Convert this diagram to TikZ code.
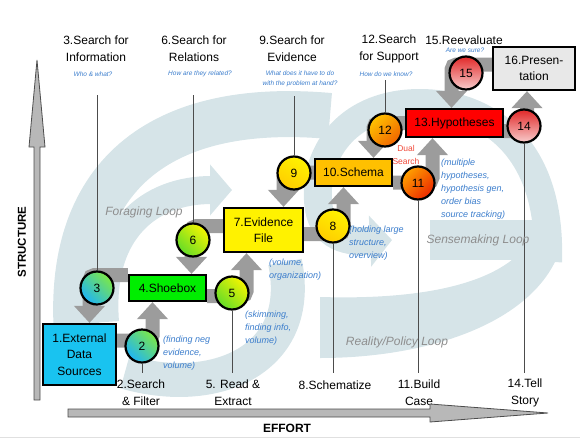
\documentclass[tikz,border=0pt]{standalone}
\usepackage{fontspec}
\setmainfont{Liberation Sans}
\usepackage{tikz}
\usetikzlibrary{arrows.meta}
\pgfdeclarelayer{swirls}
\pgfdeclarelayer{flows}
\pgfsetlayers{swirls,flows,main}
\definecolor{swirl}{HTML}{D6E4E8}
\definecolor{flowgray}{HTML}{9C9C9C}
\definecolor{axisgray}{HTML}{B8B8B8}
\definecolor{notes}{HTML}{3B7DCC}
\definecolor{loopgray}{HTML}{8E8E8E}
\definecolor{dualred}{HTML}{F04A3A}
\definecolor{extblue}{HTML}{19C3F0}
\definecolor{shoegreen}{HTML}{00EE00}
\definecolor{schemagold}{HTML}{FFC000}
\definecolor{presgray}{HTML}{E8E8E8}
\definecolor{tealtop}{RGB}{125,232,70}
\definecolor{tealbot}{RGB}{30,180,245}
\definecolor{limetop}{RGB}{245,245,0}
\definecolor{limebot}{RGB}{100,220,40}
\definecolor{suntop}{RGB}{255,242,0}
\definecolor{sunbot}{RGB}{255,205,0}
\definecolor{firetop}{RGB}{255,160,0}
\definecolor{firebot}{RGB}{235,40,0}
\definecolor{ambertop}{RGB}{255,195,0}
\definecolor{amberbot}{RGB}{240,100,0}
\definecolor{rosetop}{RGB}{225,40,40}
\definecolor{rosebot}{RGB}{248,205,205}

\begin{document}
\begin{tikzpicture}[x=1pt, y=-1pt,
    box/.style={draw, line width=2.2pt, inner sep=1pt, align=center, font=\fontsize{12}{16.5}\selectfont},
    num/.style={circle, draw, line width=2.2pt, minimum size=33pt, inner sep=0pt, font=\fontsize{12}{14}\selectfont},
    flow/.style={draw=flowgray, line width=14pt, rounded corners=5pt, -{Triangle[width=30pt,length=17pt]}},
    leader/.style={draw=black!70, line width=0.7pt},
    task/.style={align=center, inner sep=0pt, font=\fontsize{12}{17}\selectfont},
    ask/.style={text=notes, align=center, inner sep=0pt, font=\fontsize{6.5}{10}\selectfont\itshape},
    remark/.style={text=notes, align=left, inner sep=0pt, anchor=west, font=\fontsize{9}{13}\selectfont\itshape},
    loopname/.style={text=loopgray, inner sep=0pt, font=\fontsize{12}{14}\selectfont\itshape},
    band/.style={draw=swirl, line width=#1}]
\useasboundingbox (0,0) rectangle (580,439);

\node[box, fill=extblue, minimum width=73pt, minimum height=61pt] (ext) at (79.5,354.5) {1.External\\Data\\Sources};
\node[box, fill=shoegreen, minimum width=77pt, minimum height=26pt] (shoebox) at (167.5,288) {4.Shoebox};
\node[box, fill=yellow, minimum width=79pt, minimum height=44pt] (evid) at (263.5,230) {7.Evidence\\File};
\node[box, fill=schemagold, minimum width=77pt, minimum height=27pt] (schema) at (353.5,172.5) {10.Schema};
\node[box, fill=red, minimum width=97pt, minimum height=28pt] (hyp) at (454.5,123) {13.Hypotheses};
\node[box, fill=presgray, minimum width=82pt, minimum height=43pt] (pres) at (534,68.5) {16.Presen-\\tation};

\node[num, top color=tealtop, bottom color=tealbot, shading angle=-45] (c2) at (142,346) {2};
\node[num, top color=tealtop, bottom color=tealbot, shading angle=-45] (c3) at (97,288) {3};
\node[num, top color=limetop, bottom color=limebot, shading angle=-45] (c5) at (232,293) {5};
\node[num, top color=limetop, bottom color=limebot, shading angle=-45] (c6) at (193,240) {6};
\node[num, top color=suntop, bottom color=sunbot, shading angle=-30] (c8) at (333,226) {8};
\node[num, top color=suntop, bottom color=sunbot, shading angle=-30] (c9) at (294,173) {9};
\node[num, top color=firetop, bottom color=firebot, shading angle=45] (c11) at (418,183) {11};
\node[num, top color=ambertop, bottom color=amberbot, shading angle=45] (c12) at (385,130) {12};
\node[num, top color=rosetop, bottom color=rosebot] (c14) at (524,126) {14};
\node[num, top color=rosetop, bottom color=rosebot] (c15) at (466,73) {15};

\node[task] (t3) at (96,48.5) {3.Search for\\Information};
\node[task] (t6) at (194,48.5) {6.Search for\\Relations};
\node[task] (t9) at (292,48.5) {9.Search for\\Evidence};
\node[task] (t12) at (389,48.5) {12.Search\\for Support};
\node[task] (t15) at (464,40) {15.Reevaluate};
\node[ask] (q3) at (93,74) {Who \& what?};
\node[ask] (q6) at (200,74) {How are they related?};
\node[ask] (q9) at (300,79) {What does it have to do\\with the problem at hand?};
\node[ask] (q12) at (386,74) {How do we know?};
\node[ask] (q15) at (465,50) {Are we sure?};

\node[task] (t2) at (141,393) {2.Search\\\& Filter};
\node[task] (t5) at (233,393) {5. Read \&\\Extract};
\node[task] (t8) at (335,385) {8.Schematize};
\node[task] (t11) at (419,393) {11.Build\\Case};
\node[task] (t14) at (525,393) {14.Tell\\Story};

\node[remark] (r2) at (163,353) {(finding neg\\evidence,\\volume)};
\node[remark] (r5) at (245,328) {(skimming,\\finding info,\\volume)};
\node[remark] (r7) at (269,270) {(volume,\\organization)};
\node[remark] (r8) at (349,243) {(holding large\\structure,\\overview)};
\node[remark] (r11) at (441,189) {(multiple\\hypotheses,\\hypothesis gen,\\order bias\\source tracking)};
\node[text=dualred, align=center, inner sep=0pt, font=\fontsize{8.5}{13}\selectfont] (dual) at (406,155) {Dual\\Search};

\node[loopname] (forage) at (144,212) {Foraging Loop};
\node[loopname] (sense) at (478,240) {Sensemaking Loop};
\node[loopname] (policy) at (397,342) {Reality/Policy Loop};

\draw[draw=black!70, fill=axisgray, line width=0.8pt] (34,400) -- (34,147) -- (29,147) -- (37,60) -- (45,147) -- (40,147) -- (40,400) -- cycle;
\draw[draw=black!70, fill=axisgray, line width=0.8pt] (68,409) -- (430,409) -- (430,404) -- (548,413) -- (430,422) -- (430,417) -- (68,417) -- cycle;
\node[rotate=90, inner sep=0pt, font=\fontsize{11.5}{14}\selectfont\bfseries] (structure) at (22,242) {STRUCTURE};
\node[inner sep=0pt, font=\fontsize{12}{14}\selectfont\bfseries] (effort) at (287,428) {EFFORT};

\begin{pgfonlayer}{flows}
\draw[flow] ([yshift=13pt]shoebox.west) -| ([xshift=10pt]ext.north);
\draw[flow] ([yshift=14pt]ext.east) -| ([xshift=-15pt]shoebox.south);
\draw[flow] ([yshift=-8pt]shoebox.east) -| ([xshift=-17pt]evid.south);
\draw[flow] ([yshift=4pt]evid.west) -| ([xshift=24pt]shoebox.north);
\draw[flow] (schema.west) -| ([xshift=20pt]evid.north);
\draw[flow] ([yshift=-4pt]evid.east) -| ([xshift=-10pt]schema.south);
\draw[flow] (hyp.west) -| ([xshift=20pt]schema.north);
\draw[flow] ([yshift=-10pt]schema.east) -| ([xshift=-22pt]hyp.south);
\draw[flow] ([yshift=-8pt]hyp.east) -| ([xshift=-7pt]pres.south);
\draw[flow] ([yshift=4pt]pres.west) -| ([xshift=-3pt]hyp.north);

\draw[leader] (c3) -- (c3 |- 0,95);
\draw[leader] (c6) -- (c6 |- 0,95);
\draw[leader] (c9) -- (c9 |- 0,96);
\draw[leader] (c12) -- (c12 |- 0,80);
\draw[leader] (c2) -- (c2 |- 0,373);
\draw[leader] (c5) -- (c5 |- 0,373);
\draw[leader] (c8) -- (c8 |- 0,373);
\draw[leader] (c11) -- (c11 |- 0,373);
\draw[leader] (c14) -- (c14 |- 0,373);
\end{pgfonlayer}

\begin{pgfonlayer}{swirls}
\draw[band=46pt] (78,345) .. controls (62,185) and (150,100) .. (330,116);
\draw[band=28pt, -{Triangle[width=50pt,length=22pt]}] (105,322) .. controls (98,230) and (150,190) .. (232,190);
\draw[band=34pt] (125,372) .. controls (215,398) and (305,360) .. (285,262);
\fill[swirl] (320,297) .. controls (420,300) and (510,285) .. (535,232) -- (560,250) .. controls (535,322) and (430,358) .. (320,358) -- cycle;
\draw[band=28pt, -{Triangle[width=50pt,length=22pt]}] (548,262) .. controls (552,140) and (480,103) .. (420,103) .. controls (350,103) and (315,150) .. (318,200) .. controls (320,240) and (350,242) .. (392,240);
\draw[band=40pt] (430,240) -- (540,240);
\draw[black!12, line width=0.8pt] (0,437) -- (580,437);
\end{pgfonlayer}
\end{tikzpicture}
\end{document}
